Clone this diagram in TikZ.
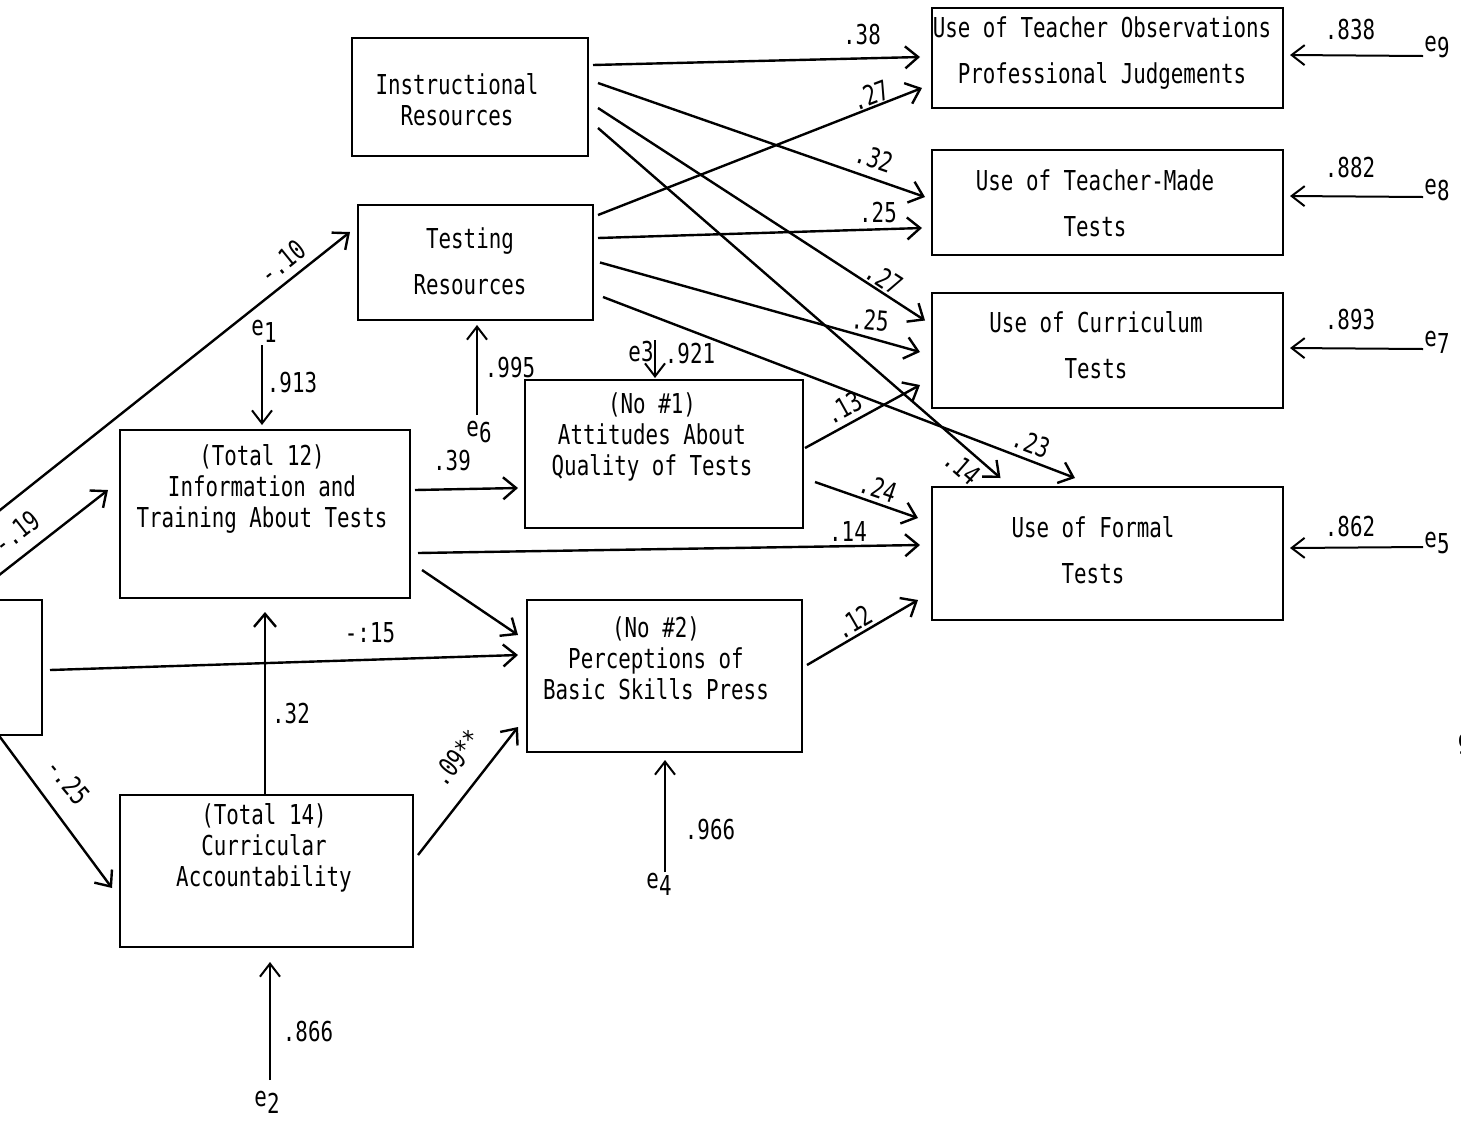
\documentclass[tikz,border=0pt]{standalone}
\usepackage{fontspec}
\newfontfamily\tw[FakeStretch=0.76]{DejaVu Sans Mono}
\usetikzlibrary{arrows.meta,calc}
\newcommand\esub[1]{e\raisebox{-0.45ex}{#1}}
\begin{document}
\begin{tikzpicture}[x=0.5pt,y=-0.5pt,
  box/.style={draw,line width=1.4pt,inner sep=0pt,outer sep=0pt,rectangle},
  txt/.style={font=\tw\fontsize{13.7}{15.5}\selectfont,align=center,inner sep=0pt},
  lab/.style={font=\tw\fontsize{13.7}{15.5}\selectfont,inner sep=0pt},
  arr/.style={line width=1.2pt,-{Straight Barb[length=6.5pt,width=11pt,line width=1.2pt]}},
  earr/.style={line width=1pt,-{Straight Barb[length=6.5pt,width=10pt,line width=1pt]}}]
\useasboundingbox (0,0) rectangle (1461,1120);
\clip (0,0) rectangle (1461,1120);
\fill[white] (0,0) rectangle (1461,1120);

% boxes
\node[box,minimum width=118pt,minimum height=59pt] (instr) at (470,97) {};
\node[box,minimum width=117.5pt,minimum height=57.5pt] (testing) at (475.5,262.5) {};
\node[box,minimum width=175.5pt,minimum height=50pt] (tobs) at (1107.5,58) {};
\node[box,minimum width=175.5pt,minimum height=52.5pt] (tmade) at (1107.5,202.5) {};
\node[box,minimum width=175.5pt,minimum height=57.5pt] (curr) at (1107.5,350.5) {};
\node[box,minimum width=175.5pt,minimum height=66.5pt] (formal) at (1107.5,553.5) {};
\node[box,minimum width=139pt,minimum height=74pt] (att) at (664,454) {};
\node[box,minimum width=137.5pt,minimum height=76pt] (perc) at (664.5,676) {};
\node[box,minimum width=145pt,minimum height=84pt] (info) at (265,514) {};
\node[box,minimum width=146.5pt,minimum height=76pt] (curric) at (266.5,871) {};
\node[box,minimum width=41pt,minimum height=67.5pt] (src) at (1,667.5) {};

% box texts
\node[txt] (instrT) at (457,99.5) {Instructional\\Resources};
\node[txt] (testingT) at (470,261.5) {Testing\\[7.5pt]Resources};
\node[txt] (tobsT) at (1102,53.5) {Use of Teacher Observations\\[7.5pt]Professional Judgements};
\node[txt] (tmadeT) at (1095,203) {Use of Teacher-Made\\[7.5pt]Tests};
\node[txt] (currT) at (1096,345.5) {Use of Curriculum\\[7.5pt]Tests};
\node[txt] (formalT) at (1093,550.5) {Use of Formal\\[7.5pt]Tests};
\node[txt] (attT) at (652,437) {(No \#1)\\Attitudes About\\Quality of Tests};
\node[txt] (percT) at (656,658) {(No \#2)\\Perceptions of\\Basic Skills Press};
\node[txt] (infoT) at (262,488.5) {(Total 12)\\Information and\\Training About Tests};
\node[txt] (curricT) at (264,848) {(Total 14)\\Curricular\\Accountability};

% error terms
\node[lab] (e1) at (264,331) {\esub{1}};
\node[lab] (e6) at (479,432) {\esub{6}};
\node[lab] (e3) at (641,352) {e3};
\node[lab] (e4) at (659,884) {\esub{4}};
\node[lab] (e2) at (267,1102) {\esub{2}};
\node[lab] (e9) at (1437,47) {\esub{9}};
\node[lab] (e8) at (1437,190) {\esub{8}};
\node[lab] (e7) at (1437,342) {\esub{7}};
\node[lab] (e5) at (1437,543) {\esub{5}};

\draw[earr] ($(e1)+(-2,14)$) -- ($(info.north)+(-3,-5)$);
\draw[earr] ($(e6)+(-2,-17)$) -- ($(testing.south)+(1.5,5)$);
\draw[earr] ($(e3)+(14,-12)$) -- ($(att.north)+(-9,-2)$);
\draw[earr] ($(e4)+(6,-12)$) -- ($(perc.south)+(0.5,8)$);
\draw[earr] ($(e2)+(3,-22)$) -- ($(curric.south)+(3.5,15)$);
\draw[earr] ($(e9)+(-14,9)$) -- ($(tobs.east)+(7,-3)$);
\draw[earr] ($(e8)+(-14,7)$) -- ($(tmade.east)+(7,-6.5)$);
\draw[earr] ($(e7)+(-14,7)$) -- ($(curr.east)+(7,-2.5)$);
\draw[earr] ($(e5)+(-14,4)$) -- ($(formal.east)+(7,-5.5)$);

\node[lab] (l913) at (292,383) {.913};
\node[lab] (l995) at (510,368) {.995};
\node[lab] (l921) at (690,354) {.921};
\node[lab] (l966) at (710,830) {.966};
\node[lab] (l866) at (308,1032) {.866};
\node[lab] (l838) at (1350,30) {.838};
\node[lab] (l882) at (1350,168) {.882};
\node[lab] (l893) at (1350,320) {.893};
\node[lab] (l862) at (1350,527) {.862};

% paths
\draw[arr] ($(instr.east)+(5,-32)$) -- ($(tobs.west)+(-12,-1)$);
\draw[arr] ($(instr.east)+(10,-14)$) -- ($(tmade.west)+(-7,-5.5)$);
\draw[arr] ($(instr.east)+(10,11)$) -- ($(curr.west)+(-7,-30)$);
\draw[arr] ($(instr.east)+(10,31)$) -- ($(formal.north)+(-107,-9)$);
\draw[arr] ($(testing.east)+(5,-47.5)$) -- ($(tobs.west)+(-10,30)$);
\draw[arr] ($(testing.east)+(5,-24.5)$) -- ($(tmade.west)+(-10,25.5)$);
\draw[arr] ($(testing.east)+(7,0)$) -- ($(curr.west)+(-12,1.5)$);
\draw[arr] ($(testing.east)+(10,34.5)$) -- ($(formal.north)+(-32.5,-9)$);
\draw[arr] ($(att.east)+(2,-6)$) -- ($(curr.west)+(-12,34.5)$);
\draw[arr] ($(att.east)+(12,28)$) -- ($(formal.west)+(-14,-35.5)$);
\draw[arr] ($(info.east)+(8,39)$) -- ($(formal.west)+(-12,-8.5)$);
\draw[arr] ($(info.east)+(5,-24)$) -- ($(att.west)+(-7,34)$);
\draw[arr] ($(info.east)+(12,56)$) -- ($(perc.west)+(-9,-41)$);
\draw[arr] ($(src.east)+(8,2.5)$) -- ($(perc.west)+(-9,-21)$);
\draw[arr] ($(perc.east)+(5,-11)$) -- ($(formal.west)+(-14,46.5)$);
\draw[arr] ($(curric.east)+(5,-16)$) -- ($(perc.west)+(-9,51)$);
\draw[arr] ($(curric.north)+(-1.5,0)$) -- ($(info.south)+(0,14)$);
\draw[arr] ($(src.south east)+(-62,-25)$) -- ($(curric.west)+(-8,17)$);
\draw[arr] ($(src.north east)+(-62,-10)$) -- ($(info.west)+(-12,-24)$);
\draw[arr] ($(src.north east)+(-62,-74)$) -- ($(testing.west)+(-8,-30.5)$);

% path labels
\node[lab] (p38) at (862,35) {.38};
\node[lab,rotate=21] (p27a) at (870,95) {.27};
\node[lab,rotate=-19] (p32) at (874,158) {.32};
\node[lab] (p25a) at (878,213) {.25};
\node[lab,rotate=-33] (p27b) at (884,278) {.27};
\node[lab,rotate=-5] (p25b) at (870,320) {.25};
\node[lab,rotate=29] (p13) at (843,408) {.13};
\node[lab,rotate=-19] (p24) at (878,488) {.24};
\node[lab] (p14a) at (848,532) {.14};
\node[lab,rotate=-41] (p14b) at (962,467) {.14};
\node[lab,rotate=-21] (p23) at (1031,443) {.23};
\node[lab] (p39) at (452,461) {.39};
\node[lab] (p15) at (370,633) {-:15};
\node[lab,rotate=30] (p12) at (853,622) {.12};
\node[lab,rotate=52] (p09) at (456,758) {.09**};
\node[lab] (p32b) at (291,714) {.32};
\node[lab,rotate=-50] (p25c) at (68,781) {-.25};
\node[lab,rotate=38] (p19) at (16,532) {-.19};
\node[lab,rotate=39] (p10) at (282,262) {-.10};
\node[lab] (pg) at (1464,745) {9};
\end{tikzpicture}
\end{document}
